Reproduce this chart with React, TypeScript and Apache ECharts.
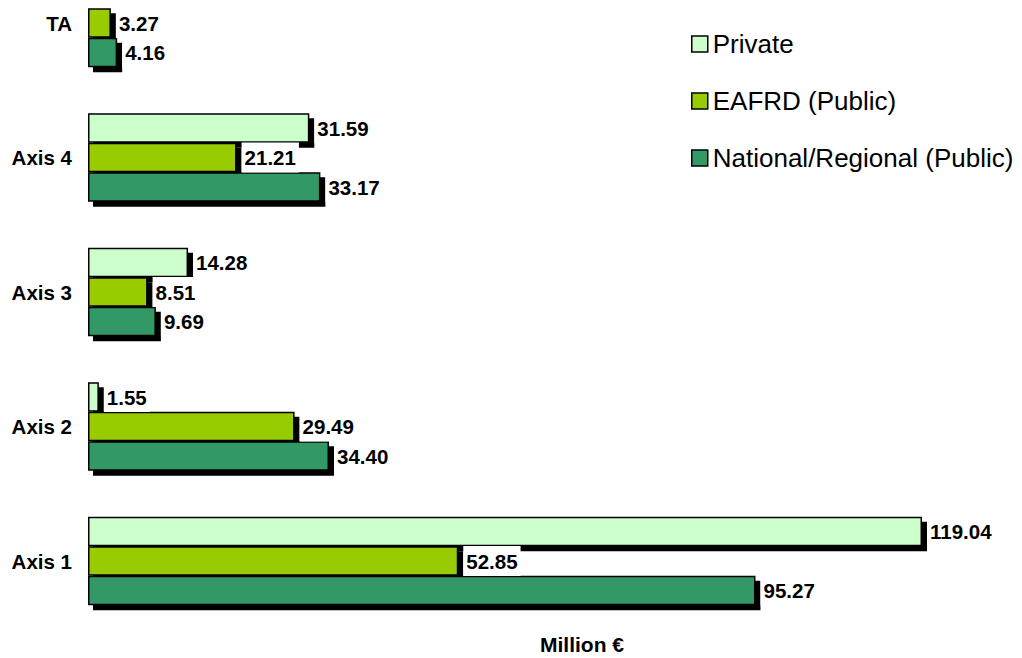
import React, { useEffect, useRef } from "react";
import * as echarts from "echarts";

const categories = ["Axis 1", "Axis 2", "Axis 3", "Axis 4", "TA"];
const privateValues = [119.04, 1.55, 14.28, 31.59, null];
const eafrdValues = [52.85, 29.49, 8.51, 21.21, 3.27];
const nationalValues = [95.27, 34.4, 9.69, 33.17, 4.16];
const seriesNames = ["Private", "EAFRD (Public)", "National/Regional (Public)"];
const seriesColors = ["#CCFFCC", "#99CC00", "#339966"];
const axisTitle = "Million €";

const FONT = "'Liberation Sans', Arial, Helvetica, sans-serif";

export default function App() {
  const ref = useRef<HTMLDivElement>(null);

  useEffect(() => {
    if (!ref.current) return;
    const chart = echarts.init(ref.current, undefined, { renderer: "svg" });
    const values = [privateValues, eafrdValues, nationalValues];
    const series = values.map((data, i) => ({
      name: seriesNames[i],
      type: "bar",
      data,
      barWidth: 29.5,
      barGap: "0%",
      itemStyle: {
        color: seriesColors[i],
        borderColor: "#000",
        borderWidth: 1.5,
        shadowColor: "#000",
        shadowBlur: 0,
        shadowOffsetX: 5,
        shadowOffsetY: 5,
      },
      label: {
        show: true,
        position: "right",
        distance: 5,
        formatter: (p: any) => (p.value == null ? "" : Number(p.value).toFixed(2)),
        color: "#000",
        fontFamily: FONT,
        fontWeight: "bold",
        fontSize: 20.5,
        lineHeight: 22,
        backgroundColor: "#fff",
        padding: [4, 3, 4, 3],
      },
    }));

    chart.setOption({
      animation: false,
      textStyle: { fontFamily: FONT },
      grid: { left: 88, right: 23.2, top: 23, bottom: 97, containLabel: false },
      title: {
        text: axisTitle,
        left: 582,
        top: 634,
        textAlign: "center",
        padding: 0,
        textStyle: { fontFamily: FONT, fontWeight: "bold", fontSize: 21, color: "#000" },
      },
      legend: {
        orient: "vertical",
        left: 691,
        top: 31,
        padding: 0,
        itemWidth: 16,
        itemHeight: 16,
        itemGap: 31,
        icon: "rect",
        data: seriesNames,
        itemStyle: {
          borderColor: "#000",
          borderWidth: 1.5,
          shadowBlur: 0,
          shadowOffsetX: 0,
          shadowOffsetY: 0,
          shadowColor: "transparent",
        },
        textStyle: { fontFamily: FONT, fontSize: 26, lineHeight: 24, color: "#000" },
      },
      xAxis: {
        type: "value",
        min: 0,
        max: 130,
        axisLine: { show: false },
        axisTick: { show: false },
        axisLabel: { show: false },
        splitLine: { show: false },
      },
      yAxis: {
        type: "category",
        data: categories,
        boundaryGap: false,
        axisLine: { show: false },
        axisTick: { show: false },
        axisLabel: {
          margin: 16,
          color: "#000",
          fontFamily: FONT,
          fontWeight: "bold",
          fontSize: 20.5,
        },
      },
      series,
    });

    return () => chart.dispose();
  }, []);

  return (
    <div
      ref={ref}
      style={{ position: "absolute", left: 0, top: 0, width: 1022, height: 658, background: "#fff" }}
    />
  );
}
